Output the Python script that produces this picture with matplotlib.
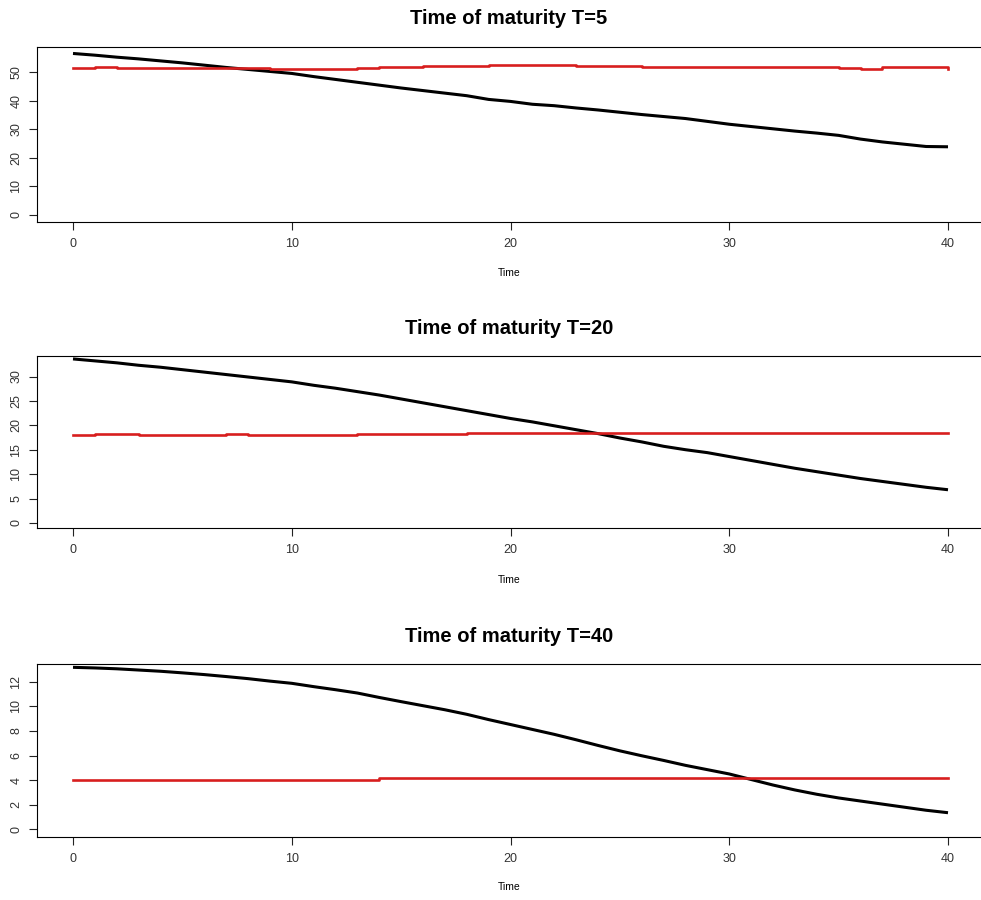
import matplotlib.pyplot as plt

plt.rcParams["font.family"] = ["Liberation Sans", "DejaVu Sans"]

# ── Datos ─────────────────────────────────────────────────────────────────────
time = list(range(41))

price_t5 = [56.6, 56.0, 55.3, 54.7, 54.0, 53.3, 52.5, 51.7, 51.0, 50.3,
            49.6, 48.5, 47.5, 46.5, 45.5, 44.5, 43.6, 42.7, 41.8, 40.5,
            39.8, 38.8, 38.3, 37.5, 36.8, 36.0, 35.2, 34.5, 33.8, 32.8,
            31.8, 31.0, 30.2, 29.4, 28.7, 27.9, 26.6, 25.6, 24.8, 24.0, 23.9]
hedge_t5 = [51.4, 51.7, 51.5, 51.5, 51.5, 51.5, 51.5, 51.6, 51.5, 51.1,
            51.0, 51.0, 51.2, 51.4, 51.8, 52.0, 52.2, 52.2, 52.3, 52.4,
            52.6, 52.6, 52.5, 52.3, 52.2, 52.1, 51.9, 51.8, 51.8, 51.8,
            51.8, 51.8, 51.8, 51.8, 51.8, 51.6, 51.2, 51.8, 51.8, 51.8, 51.0]

price_t20 = [33.6, 33.2, 32.8, 32.3, 31.9, 31.4, 30.9, 30.4, 29.9, 29.4,
             28.9, 28.2, 27.6, 26.9, 26.2, 25.4, 24.6, 23.8, 23.0, 22.2,
             21.4, 20.7, 19.9, 19.1, 18.3, 17.4, 16.6, 15.7, 15.0, 14.4,
             13.6, 12.8, 12.0, 11.2, 10.5, 9.8, 9.1, 8.5, 7.9, 7.3, 6.8]
hedge_t20 = [18.1, 18.3, 18.3, 18.1, 18.1, 18.1, 18.1, 18.3, 18.1, 18.1,
             18.1, 18.1, 18.1, 18.3, 18.3, 18.3, 18.3, 18.3, 18.5, 18.5,
             18.5, 18.5, 18.5, 18.5, 18.5, 18.4, 18.4, 18.4, 18.4, 18.4,
             18.4, 18.4, 18.4, 18.4, 18.4, 18.4, 18.4, 18.4, 18.4, 18.4, 18.4]

price_t40 = [13.17, 13.12, 13.05, 12.95, 12.85, 12.72, 12.58, 12.42, 12.25, 12.05,
             11.87, 11.6, 11.35, 11.08, 10.72, 10.38, 10.05, 9.72, 9.35, 8.92,
             8.52, 8.12, 7.72, 7.28, 6.82, 6.38, 5.98, 5.6, 5.2, 4.85,
             4.5, 4.05, 3.6, 3.2, 2.85, 2.55, 2.3, 2.05, 1.8, 1.55, 1.35]
hedge_t40 = [4.0] * 14 + [4.15] * 27

panels = [
    ("Time of maturity T=5", price_t5, hedge_t5, [0, 10, 20, 30, 40, 50], (-2.35, 58.76)),
    ("Time of maturity T=20", price_t20, hedge_t20, [0, 5, 10, 15, 20, 25, 30], (-1.1, 34.2)),
    ("Time of maturity T=40", price_t40, hedge_t40, [0, 2, 4, 6, 8, 10, 12], (-0.6, 13.44)),
]

# posiciones en píxeles: (arriba, abajo) de cada caja
boxes = [(47.3, 221.7), (356.0, 528.3), (664.0, 836.7)]
title_y = [18, 328, 636]
xlabel_y = [273, 580, 887]

W, H = 981, 900
fig = plt.figure(figsize=(W / 100, H / 100), dpi=100)

for (title, price, hedge, yticks, ylim), (top, bot), ty, ly in zip(panels, boxes, title_y, xlabel_y):
    ax = fig.add_axes([37 / W, 1 - bot / H, 946 / W, (bot - top) / H])
    ax.plot(time, price, color="black", lw=2.2, solid_capstyle="butt")
    ax.plot(time, hedge, color="#d81e1e", lw=1.9, drawstyle="steps-post")
    ax.set_xlim(-1.646, 41.6)
    ax.set_ylim(*ylim)
    ax.set_xticks([0, 10, 20, 30, 40])
    ax.set_yticks(yticks)
    ax.tick_params(axis="both", length=5.5, width=0.8, labelsize=9, color="#222222",
                   labelcolor="#333333")
    ax.tick_params(axis="x", pad=6)
    ax.tick_params(axis="y", pad=5)
    for lab in ax.get_yticklabels():
        lab.set_rotation(90)
        lab.set_va("center")
    for sp in ax.spines.values():
        sp.set_linewidth(0.8)
    fig.text(509 / W, 1 - ty / H, title, ha="center", va="center",
             fontsize=14.5, fontweight="bold")
    fig.text(509 / W, 1 - ly / H, "Time", ha="center", va="center", fontsize=7.5)

plt.savefig("out.png", dpi=100)
